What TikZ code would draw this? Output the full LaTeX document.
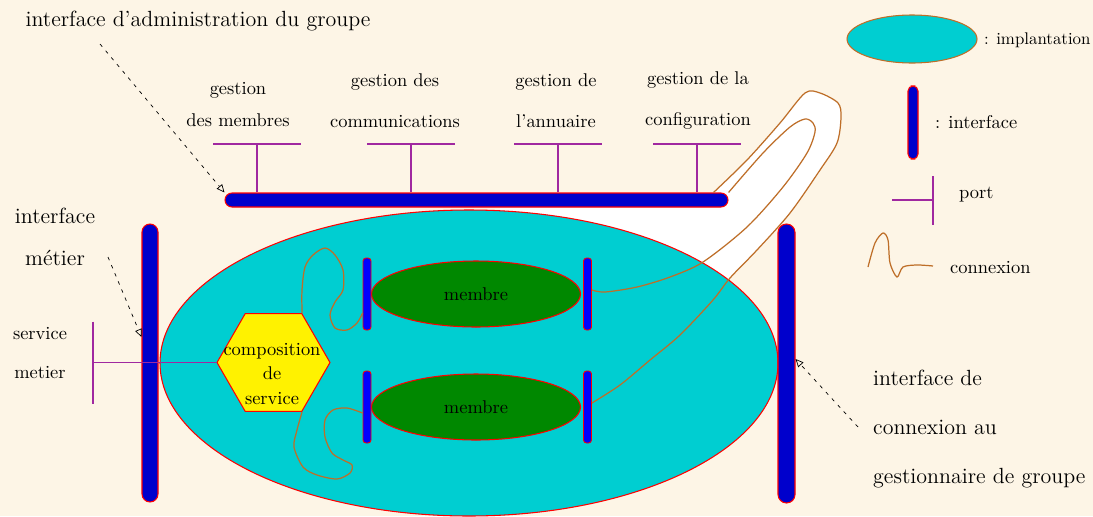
\documentclass[tikz,border=0pt]{standalone}
\usepackage{tikz}
\usetikzlibrary{shapes.geometric,arrows.meta}

\definecolor{bgcream}{RGB}{253,245,230}
\definecolor{implcyan}{RGB}{0,206,209}
\definecolor{itfblue}{RGB}{0,0,204}
\definecolor{mbrgreen}{RGB}{0,136,0}
\definecolor{portpurple}{RGB}{160,40,160}
\definecolor{connbrown}{RGB}{190,110,40}

\begin{document}
\begin{tikzpicture}[
    itf/.style={draw=red, fill=itfblue, line width=0.6pt, inner sep=0pt},
    smallitf/.style={draw=red, fill=blue, line width=0.5pt, inner sep=0pt, minimum width=0.16cm, minimum height=1.44cm, rounded corners=0.06cm},
    membre/.style={ellipse, draw=red, fill=mbrgreen, line width=0.6pt, inner sep=0pt, minimum width=4.18cm, minimum height=1.32cm, petit},
    port/.style={portpurple, line width=0.8pt},
    cnx/.style={connbrown, line width=0.7pt},
    callout/.style={line width=0.4pt, dash pattern=on 2pt off 3pt, -{Triangle[open, length=4.5pt, width=4pt]}},
    petit/.style={font=\fontsize{10.5}{12.6}\selectfont},
    grand/.style={font=\fontsize{12.5}{15}\selectfont}
]
    \useasboundingbox (0,0) rectangle (21.86,10.32);
    \fill[bgcream] (0,0) rectangle (21.86,10.32);

    % White tube behind the connexions
    \fill[white] (10.0,6.3) -- (14.26,6.3) -- plot[smooth] coordinates {(14.26,6.46) (14.94,7.12) (15.60,7.86) (16.10,8.46) (16.40,8.46) (16.76,8.26) (16.82,7.98) (16.74,7.46) (16.40,6.92) (15.80,6.06) (15.14,5.32) (14.60,4.76) (14.26,4.32) (13.60,3.62)} -- (10.0,4.0) -- cycle;

    % Implantation
    \node[ellipse, draw=red, fill=implcyan, line width=0.6pt, inner sep=0pt, minimum width=12.36cm, minimum height=6.12cm] (impl) at (9.38,3.06) {};

    % Interfaces
    \node[itf, minimum width=10.06cm, minimum height=0.28cm, rounded corners=0.14cm] (adm) at (9.53,6.32) {};
    \node[itf, minimum width=0.32cm, minimum height=5.56cm, rounded corners=0.16cm] (metier) at (3.0,3.06) {};
    \node[itf, minimum width=0.34cm, minimum height=5.58cm, rounded corners=0.17cm] (gest) at (15.73,3.05) {};

    % Membres
    \node[membre] (m1) at (9.52,4.44) {membre};
    \node[smallitf] (m1l) at (7.34,4.44) {};
    \node[smallitf] (m1r) at (11.75,4.44) {};
    \node[membre] (m2) at (9.52,2.18) {membre};
    \node[smallitf] (m2l) at (7.34,2.18) {};
    \node[smallitf] (m2r) at (11.75,2.18) {};

    % Composition de service
    \node[regular polygon, regular polygon sides=6, draw=red, fill=yellow, line width=0.6pt, inner sep=0pt, minimum size=2.26cm] (compo) at (5.47,3.07) {};
    \node[petit, align=center] (compotxt) at (5.44,2.84) {composition\\[1.3pt]de\\[1.3pt]service};

    % Ports of the administration interface
    \coordinate (p1) at (5.14,7.44);
    \draw[port] (adm.north -| p1) -- (p1) ++(-0.88,0) -- ++(1.76,0);
    \coordinate (p2) at (8.22,7.44);
    \draw[port] (adm.north -| p2) -- (p2) ++(-0.88,0) -- ++(1.76,0);
    \coordinate (p3) at (11.16,7.44);
    \draw[port] (adm.north -| p3) -- (p3) ++(-0.88,0) -- ++(1.76,0);
    \coordinate (p4) at (13.94,7.44);
    \draw[port] (adm.north -| p4) -- (p4) ++(-0.88,0) -- ++(1.76,0);

    % Port metier
    \coordinate (pm) at (1.86,3.07);
    \draw[port] (compo.west) -- (pm) ++(0,0.82) -- ++(0,-1.64);

    % Connexions
    \draw[cnx] plot[smooth] coordinates {(compo.60) (6.04,4.52) (6.10,4.98) (6.26,5.22) (6.50,5.36) (6.70,5.22) (6.86,4.92) (6.86,4.52) (6.70,4.28) (6.60,4.02) (6.70,3.76) (6.94,3.72) (7.14,3.86) ([yshift=-0.38cm]m1l.west)};
    \draw[cnx] plot[smooth] coordinates {(compo.-60) (5.94,1.72) (5.88,1.38) (6.06,0.98) (6.34,0.82) (6.74,0.74) (7.00,0.86) (7.04,1.02) (6.86,1.12) (6.64,1.26) (6.50,1.58) (6.50,1.92) (6.66,2.12) (6.94,2.16) ([yshift=-0.12cm]m2l.west)};
    \draw[cnx] plot[smooth] coordinates {([yshift=0.08cm]m1r.east) (12.10,4.48) (12.74,4.58) (13.40,4.78) (14.06,5.08) (14.94,5.78) (15.66,6.58) (16.14,7.26) (16.30,7.68) (16.26,7.86) (16.10,7.94) (15.80,7.78) (15.26,7.26) (adm.north east)};
    \draw[cnx] plot[smooth] coordinates {([yshift=0.08cm]m2r.east) (12.40,2.62) (13.00,3.12) (13.60,3.62) (14.26,4.32) (14.60,4.76) (15.14,5.32) (15.80,6.06) (16.40,6.92) (16.74,7.46) (16.82,7.98) (16.76,8.26) (16.40,8.46) (16.10,8.46) (15.60,7.86) (14.94,7.12) ([xshift=-0.3cm]adm.north east)};

    % Labels
    \node[grand] (titre) at (3.96,9.9) {interface d’administration du groupe};
    \node[petit, align=center] (g1) at (4.76,8.23) {gestion\\[6pt]des membres};
    \node[petit, align=center] (g2) at (7.9,8.31) {gestion des\\[10.6pt]communications};
    \node[petit, align=center] (g3) at (11.12,8.31) {gestion de\\[10.6pt]l’annuaire};
    \node[petit, align=center] (g4) at (13.96,8.31) {gestion de la\\[10.6pt]configuration};
    \node[grand, align=center] (lblmet) at (1.1,5.58) {interface\\[8.8pt]métier};
    \node[petit, align=center] (lblserv) at (0.8,3.26) {service\\[10pt]metier};
    \node[grand, align=left, anchor=west] (lblgest) at (17.34,1.74) {interface de\\[12.8pt]connexion au\\[12.8pt]gestionnaire de groupe};

    % Callouts
    \coordinate (a1) at (2.0,9.44);
    \draw[callout] (a1) -- (adm.north west);
    \coordinate (a2) at (2.16,5.18);
    \draw[callout] (a2) -- ([yshift=0.52cm]metier.west);
    \coordinate (a3) at (17.16,1.78);
    \draw[callout] (a3) -- ([yshift=0.09cm]gest.east);

    % Legend
    \node[ellipse, draw=connbrown, fill=implcyan, line width=0.6pt, inner sep=0pt, minimum width=2.6cm, minimum height=0.96cm] (legimpl) at (18.24,9.54) {};
    \node[font=\fontsize{9.6}{11.5}\selectfont, anchor=west, inner sep=1pt] (legimpltxt) at (19.64,9.52) {: implantation};
    \node[itf, minimum width=0.2cm, minimum height=1.46cm, rounded corners=0.1cm] (legitf) at (18.26,7.87) {};
    \node[petit, anchor=west, inner sep=1pt] (legitftxt) at (18.66,7.88) {: interface};
    \coordinate (lp) at (18.66,6.32);
    \draw[port] (lp) ++(0,0.48) -- ++(0,-0.98);
    \draw[port] (lp) -- ++(-0.82,0);
    \node[petit, anchor=west, inner sep=1pt] (legporttxt) at (19.14,6.42) {port};
    \draw[cnx] plot[smooth] coordinates {(17.36,4.98) (17.50,5.46) (17.66,5.66) (17.76,5.52) (17.80,5.06) (17.94,4.78) (18.06,4.98) (18.34,5.02) (18.66,5.00)};
    \node[petit, anchor=west, inner sep=1pt] (legcnxtxt) at (18.96,4.96) {connexion};
\end{tikzpicture}
\end{document}
